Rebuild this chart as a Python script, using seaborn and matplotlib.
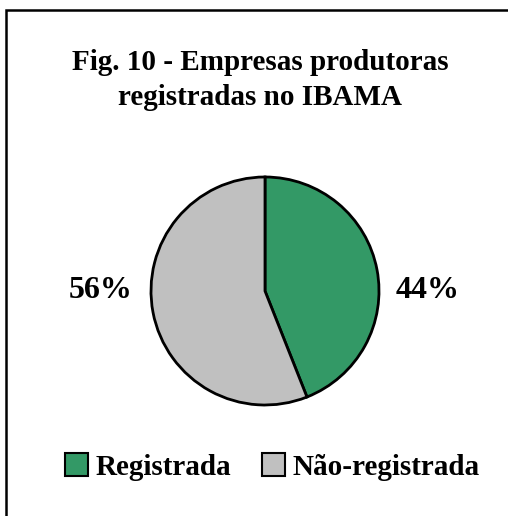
import matplotlib
matplotlib.use("Agg")
import matplotlib.pyplot as plt
import matplotlib.patches as mpatches
import seaborn as sns

# data
categories = ["Registrada", "Não-registrada"]
shares     = [44, 56]
colors     = ["#339966", "#C0C0C0"]
title_txt  = "Fig. 10 - Empresas produtoras\nregistradas no IBAMA"

sns.set_theme(style="white")
plt.rcParams["font.family"] = ["Liberation Serif", "DejaVu Serif"]
plt.rcParams["font.weight"] = "bold"
plt.rcParams["text.color"] = "black"

W, H, DPI = 508, 516, 100
fig = plt.figure(figsize=(W / DPI, H / DPI), dpi=DPI)
fig.patch.set_facecolor("white")

# pie axes: centre (265, 291) px, radius 114 px
cx, cy, r = 265, 291, 114
ax = fig.add_axes([(cx - r) / W, (H - cy - r) / H, 2 * r / W, 2 * r / H])
wedges, _ = ax.pie(shares, colors=colors, startangle=90, counterclock=False,
                   wedgeprops=dict(edgecolor="black", linewidth=2.0))
ax.set_xlim(-1, 1)
ax.set_ylim(-1, 1)
ax.set_aspect("equal")
ax.axis("off")

# percent labels sit left / right of the pie
ax.text(1.43, 0, f"{shares[0]}%", ha="center", va="center",
        fontsize=23, fontweight="bold", color="black", clip_on=False)
ax.text(-1.44, 0, f"{shares[1]}%", ha="center", va="center",
        fontsize=23, fontweight="bold", color="black", clip_on=False)

fig.text(260 / W, 1 - 80 / H, title_txt, ha="center", va="center",
         fontsize=21, fontweight="bold", color="black", linespacing=1.4)

handles = [mpatches.Patch(facecolor=c, edgecolor="black", linewidth=1.5)
           for c in colors]
leg = fig.legend(handles, categories, loc="center",
                 bbox_to_anchor=(272 / W, 1 - 467 / H),
                 ncol=2, frameon=False, prop=dict(size=21, weight="bold"),
                 handlelength=0.8, handleheight=0.8, handletextpad=0.25,
                 columnspacing=1.05)
for t in leg.get_texts():
    t.set_color("black")

# outer frame (right/bottom edges run off the image)
frame = mpatches.Rectangle((6 / W, -0.05), 1.1, 1 - 10 / H + 0.05,
                           transform=fig.transFigure, fill=False,
                           edgecolor="black", linewidth=1.8, clip_on=False)
fig.patches.append(frame)

fig.savefig("out.png", dpi=DPI)
